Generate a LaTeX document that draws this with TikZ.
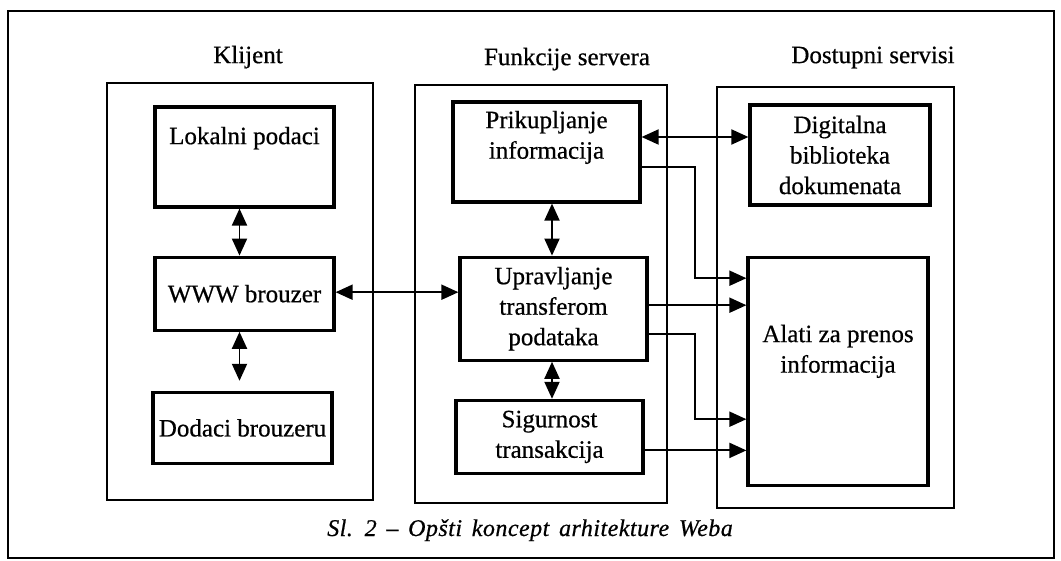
\documentclass[tikz,border=0pt]{standalone}
\usepackage{fontspec}
\setmainfont[FakeBold=0.6]{Liberation Serif}
\newfontfamily\capfont[LetterSpace=2,WordSpace=1.5,FakeBold=0.6]{Liberation Serif}
\usetikzlibrary{positioning,arrows.meta}

\tikzstyle{kolona}=[draw,line width=2pt,inner sep=0pt]
\tikzstyle{blok}=[draw,line width=3.2pt,align=center,inner xsep=2pt,font=\fontsize{25}{30.5}\selectfont]
\tikzstyle{naslov}=[font=\fontsize{25}{30}\selectfont]
\tikzstyle{veza}=[line width=1.9pt,-{Triangle[length=17pt,width=15pt]}]
\tikzstyle{dveza}=[line width=1.9pt,{Triangle[length=17pt,width=15pt]}-{Triangle[length=17pt,width=15pt]}]

\begin{document}
\begin{tikzpicture}[x=1pt,y=-1pt]
  \useasboundingbox (0,0) rectangle (1061,561);
  \draw [line width=1.8pt] (8,11) rectangle (1054,558);

  \begin{scope}
    \node [kolona,minimum width=266pt,minimum height=417pt] (kli) at (240,291.5) {};
    \node [kolona,minimum width=252pt,minimum height=418pt] (srv) at (541,294) {};
    \node [kolona,minimum width=237pt,minimum height=421pt] (dst) at (835.5,297.5) {};

    \node [naslov] (tkli) [above=10pt of kli,xshift=8pt] {Klijent};
    \node [naslov] (tsrv) [above=10pt of srv,xshift=26pt] {Funkcije servera};
    \node [naslov] (tdst) [above=14pt of dst,xshift=37.5pt] {Dostupni servisi};

    \node [blok,minimum width=179pt,minimum height=100pt] (lok) at (244.5,157) {Lokalni podaci\rule[-43pt]{0pt}{0pt}};
    \node [blok,minimum width=179pt,minimum height=73pt] (www) [below=47pt of lok] {WWW brouzer};
    \node [blok,minimum width=179pt,minimum height=71pt] (dod) [below=59pt of www,xshift=-2pt] {Dodaci brouzeru};

    \node [blok,minimum width=187pt,minimum height=100pt] (prk) at (546.5,152) {Prikupljanje\\informacija\rule[-34.5pt]{0pt}{0pt}};
    \node [blok,minimum width=187pt,minimum height=103pt] (upr) [below=52pt of prk,xshift=7pt] {Upravljanje\\transferom\\podataka};
    \node [blok,minimum width=187pt,minimum height=73pt] (sig) [below=37pt of upr,xshift=-4pt] {Sigurnost\\transakcija};

    \node [blok,minimum width=180pt,minimum height=100pt] (dig) at (840,155) {Digitalna\\biblioteka\\dokumenata};
    \node [blok,minimum width=180pt,minimum height=228pt] (aln) [below=49pt of dig,xshift=-2pt] {Alati za prenos\\informacija\rule[-45pt]{0pt}{0pt}};

    \node [font=\capfont\itshape\fontsize{24}{28}\selectfont,anchor=base] (opis) at (530,536) {Sl. 2 – Opšti koncept arhitekture Weba};
  \end{scope}

  \coordinate (k1) at ([xshift=-5pt]lok.south);
  \coordinate (k2) at ([xshift=-5pt]www.south);
  \coordinate (s1) at ([xshift=5.5pt]prk.south);
  \coordinate (s2) at ([xshift=-1.5pt]upr.south);
  \coordinate (w1) at ([yshift=1.5pt]www.east);
  \coordinate (d1) at ([yshift=15pt]prk.east);

  \draw [dveza] (k1) -- (k1 |- www.north);
  \draw [dveza,shorten >=10pt] (k2) -- (k2 |- dod.north);
  \draw [dveza] (s1) -- (s1 |- upr.north);
  \draw [dveza] (s2) -- (s2 |- sig.north);
  \draw [dveza] (w1) -- (w1 -| upr.west);
  \draw [dveza] (d1) -- (d1 -| dig.west);

  \coordinate (bus) at (695,0);
  \coordinate (o1) at ([yshift=-15pt]prk.east);
  \coordinate (o2) at ([yshift=3.5pt]upr.east);
  \coordinate (o3) at ([yshift=-25.5pt]upr.east);
  \coordinate (o4) at ([yshift=-13.5pt]sig.east);
  \coordinate (i1) at ([yshift=93pt]aln.west);
  \coordinate (i3) at ([yshift=-48pt]aln.west);

  \draw [veza] (o1) -| (i1 -| bus) -- (i1);
  \draw [veza] (o2) -- (o2 -| aln.west);
  \draw [veza] (o3) -| (i3 -| bus) -- (i3);
  \draw [veza] (o4) -- (o4 -| aln.west);
\end{tikzpicture}
\end{document}
